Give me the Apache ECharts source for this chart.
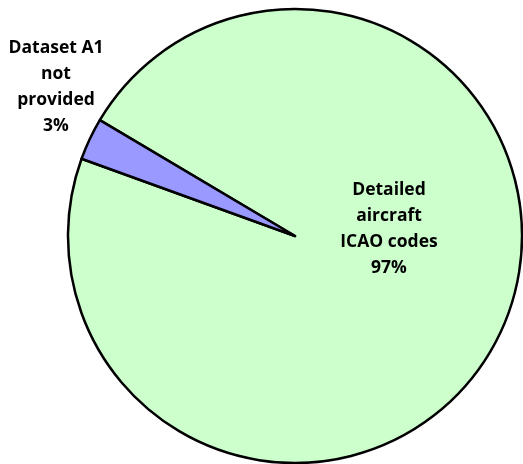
<!DOCTYPE html>
<html>
<head>
<meta charset="utf-8">
<script src="https://cdn.jsdelivr.net/npm/echarts@6/dist/echarts.min.js"></script>
<style>html,body{margin:0;padding:0;background:#fff}#c{width:523px;height:464px}</style>
</head>
<body>
<div id="c"></div>
<script>
const categories = ["Detailed\naircraft\nICAO codes", "Dataset A1\nnot\nprovided"];
const values = [97, 3];
const colors = ["#CCFFCC", "#9999FF"];
const labelOffsets = [[94, -7], [-239, -149]];

const chart = echarts.init(document.getElementById('c'));
chart.setOption({
  animation: false,
  series: [{
    type: 'pie',
    center: [295, 236],
    radius: [0, 227],
    startAngle: 149.3,
    percentPrecision: 0,
    avoidLabelOverlap: false,
    labelLine: { show: false },
    itemStyle: { borderColor: '#000', borderWidth: 2.5 },
    emphasis: { disabled: true },
    data: categories.map((c, i) => ({
      name: c,
      value: values[i],
      itemStyle: { color: colors[i] },
      label: {
        show: true,
        position: 'center',
        offset: labelOffsets[i],
        formatter: '{b}\n{d}%',
        fontFamily: 'Open Sans',
        fontWeight: 'bold',
        fontSize: 17.5,
        lineHeight: 26,
        color: '#000',
        align: 'center'
      }
    }))
  }]
});
</script>
</body>
</html>
